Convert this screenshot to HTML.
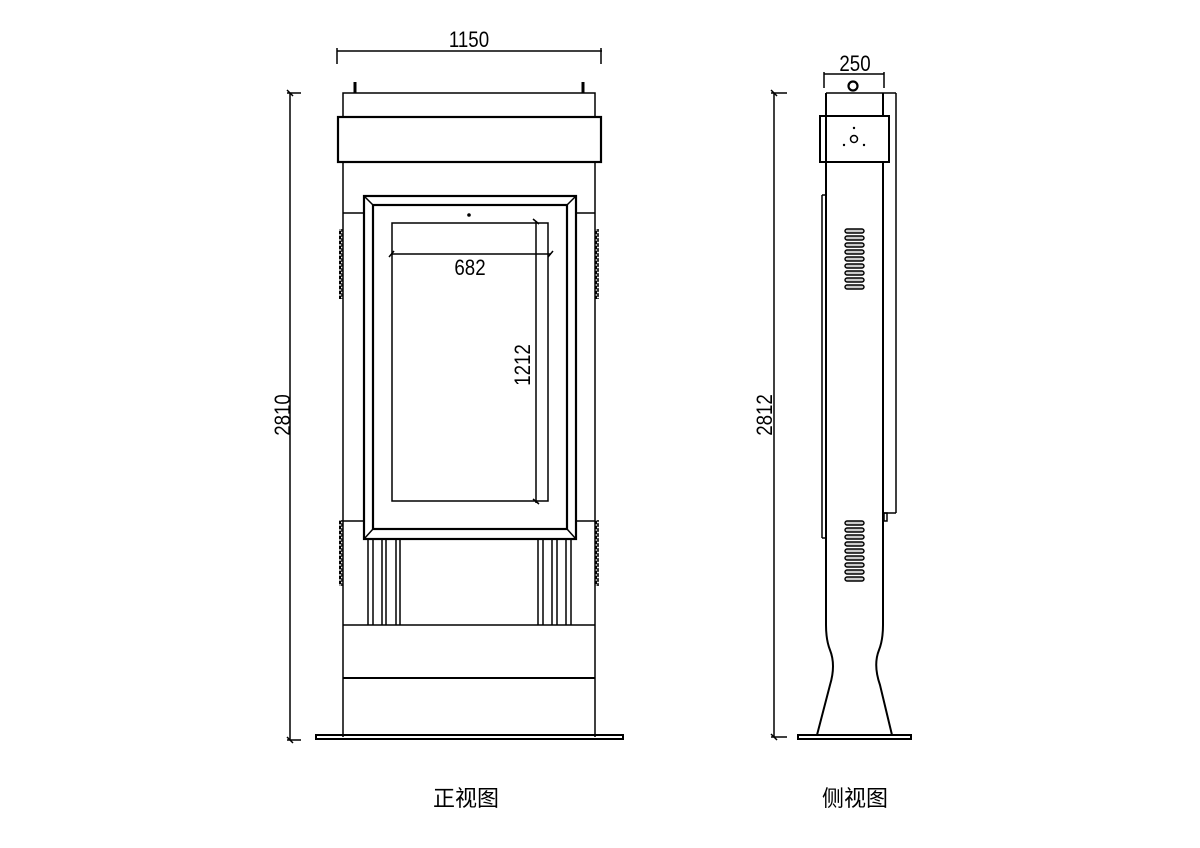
<!DOCTYPE html>
<html><head><meta charset="utf-8"><style>
html,body{margin:0;padding:0;background:#fff;}
svg{display:block;}
text{font-family:"Liberation Sans","Noto Sans CJK SC",sans-serif;fill:#000;}
</style></head><body>
<svg width="1200" height="848" viewBox="0 0 1200 848" xmlns="http://www.w3.org/2000/svg">
<defs>
<pattern id="sc" width="4" height="5" patternUnits="userSpaceOnUse">
<circle cx="2" cy="2.5" r="1.7" fill="none" stroke="#000" stroke-width="1.4"/>
</pattern>
<g id="vent">
<rect x="0" y="0" width="19" height="4" rx="2" fill="#ccc" stroke="#000" stroke-width="1.4"/>
</g>
</defs>
<g fill="none" stroke="#000" stroke-width="1.5">
<!-- FRONT VIEW -->
<line x1="337" y1="51" x2="602" y2="51"/>
<line x1="337" y1="48" x2="337" y2="64"/>
<line x1="601" y1="48" x2="601" y2="64"/>
<line x1="355" y1="82" x2="355" y2="93" stroke-width="3"/>
<line x1="583" y1="82" x2="583" y2="93" stroke-width="3"/>
<rect x="343" y="93" width="252" height="24"/>
<rect x="338" y="117" width="263" height="45" stroke-width="2.2"/>
<line x1="343" y1="162" x2="343" y2="737"/>
<line x1="595" y1="162" x2="595" y2="737"/>
<line x1="343" y1="213" x2="364" y2="213"/>
<line x1="576" y1="213" x2="595" y2="213"/>
<line x1="343" y1="521" x2="364" y2="521"/>
<line x1="576" y1="521" x2="595" y2="521"/>
<rect x="364" y="196" width="212" height="343" stroke-width="2.2"/>
<rect x="373" y="205" width="194" height="324" stroke-width="2.2"/>
<line x1="364" y1="196" x2="373" y2="205"/>
<line x1="576" y1="196" x2="567" y2="205"/>
<line x1="364" y1="539" x2="373" y2="529"/>
<line x1="576" y1="539" x2="567" y2="529"/>
<rect x="392" y="223" width="156" height="278"/>
<line x1="391" y1="254" x2="551" y2="254"/>
<line x1="389" y1="257" x2="394" y2="251"/>
<line x1="548" y1="257" x2="553" y2="251"/>
<line x1="536" y1="221" x2="536" y2="503"/>
<line x1="533" y1="219" x2="539" y2="224"/>
<line x1="533" y1="499" x2="539" y2="504"/>
<g stroke-width="1.5">
<line x1="368" y1="539" x2="368" y2="625"/><line x1="373" y1="539" x2="373" y2="625"/>
<line x1="382" y1="539" x2="382" y2="625"/><line x1="386" y1="539" x2="386" y2="625"/>
<line x1="396" y1="539" x2="396" y2="625"/><line x1="400" y1="539" x2="400" y2="625"/>
<line x1="538" y1="539" x2="538" y2="625"/><line x1="543" y1="539" x2="543" y2="625"/>
<line x1="552" y1="539" x2="552" y2="625"/><line x1="557" y1="539" x2="557" y2="625"/>
<line x1="566" y1="539" x2="566" y2="625"/><line x1="571" y1="539" x2="571" y2="625"/>
</g>
<line x1="343" y1="625" x2="595" y2="625"/>
<line x1="343" y1="678" x2="595" y2="678" stroke-width="2"/>
<rect x="316" y="735" width="307" height="4" stroke-width="2"/>
<line x1="290" y1="93" x2="290" y2="740"/>
<line x1="287" y1="93" x2="301" y2="93"/>
<line x1="287" y1="740" x2="301" y2="740"/>
<line x1="287" y1="90" x2="293" y2="96"/>
<line x1="287" y1="737" x2="293" y2="743"/>

<!-- SIDE VIEW -->
<line x1="824" y1="74" x2="884" y2="74"/>
<line x1="824" y1="72" x2="824" y2="88"/>
<line x1="884" y1="72" x2="884" y2="88"/>
<circle cx="853" cy="86" r="4.5" stroke-width="2.2"/>
<line x1="826" y1="93" x2="896" y2="93"/>
<rect x="820" y="116" width="69" height="46" stroke-width="2"/>
<circle cx="854" cy="139" r="3.5"/>
<path d="M826 93 V162 M883 93 V116" stroke-width="2"/>
<line x1="896" y1="93" x2="896" y2="513"/>
<line x1="884" y1="513" x2="896" y2="513"/>
<rect x="884" y="513" width="3" height="8"/>
<line x1="822" y1="195" x2="822" y2="538"/>
<line x1="822" y1="195" x2="826" y2="195"/>
<line x1="822" y1="538" x2="826" y2="538"/>
<path d="M826 162 V625 Q826 640 830 650 Q836 665 830 685 L817 735" stroke-width="2"/>
<path d="M883 162 V625 Q883 640 879 650 Q873 665 880 685 L892 735" stroke-width="2"/>
<rect x="798" y="735" width="113" height="4" stroke-width="2"/>
<line x1="774" y1="93" x2="774" y2="737"/>
<line x1="771" y1="93" x2="787" y2="93"/>
<line x1="771" y1="737" x2="787" y2="737"/>
<line x1="771" y1="90" x2="777" y2="96"/>
<line x1="771" y1="734" x2="777" y2="740"/>
</g>
<g fill="#000">
<circle cx="469" cy="215" r="1.8"/>
<circle cx="854" cy="128" r="1.2"/>
<circle cx="844" cy="145" r="1.2"/>
<circle cx="864" cy="145" r="1.2"/>
</g>
<rect x="339" y="229" width="4" height="70" fill="url(#sc)"/>
<rect x="339" y="520" width="4" height="66" fill="url(#sc)"/>
<rect x="595" y="229" width="4" height="70" fill="url(#sc)"/>
<rect x="595" y="520" width="4" height="66" fill="url(#sc)"/>
<g>
<use href="#vent" x="845" y="229"/><use href="#vent" x="845" y="236"/><use href="#vent" x="845" y="243"/>
<use href="#vent" x="845" y="250"/><use href="#vent" x="845" y="257"/><use href="#vent" x="845" y="264"/>
<use href="#vent" x="845" y="271"/><use href="#vent" x="845" y="278"/><use href="#vent" x="845" y="285"/>
<use href="#vent" x="845" y="521"/><use href="#vent" x="845" y="528"/><use href="#vent" x="845" y="535"/>
<use href="#vent" x="845" y="542"/><use href="#vent" x="845" y="549"/><use href="#vent" x="845" y="556"/>
<use href="#vent" x="845" y="563"/><use href="#vent" x="845" y="570"/><use href="#vent" x="845" y="577"/>
</g>
<g font-size="22">
<text transform="translate(469,47) scale(0.85,1)" text-anchor="middle">1150</text>
<text transform="translate(470,275) scale(0.85,1)" text-anchor="middle">682</text>
<text transform="translate(530,365) rotate(-90) scale(0.85,1)" text-anchor="middle">1212</text>
<text transform="translate(290,415) rotate(-90) scale(0.85,1)" text-anchor="middle">2810</text>
<text transform="translate(855,71) scale(0.85,1)" text-anchor="middle">250</text>
<text transform="translate(772,415) rotate(-90) scale(0.85,1)" text-anchor="middle">2812</text>
</g>
<text x="466" y="806" font-size="22" text-anchor="middle">正视图</text>
<text x="855" y="806" font-size="22" text-anchor="middle">侧视图</text>
</svg>
</body></html>
